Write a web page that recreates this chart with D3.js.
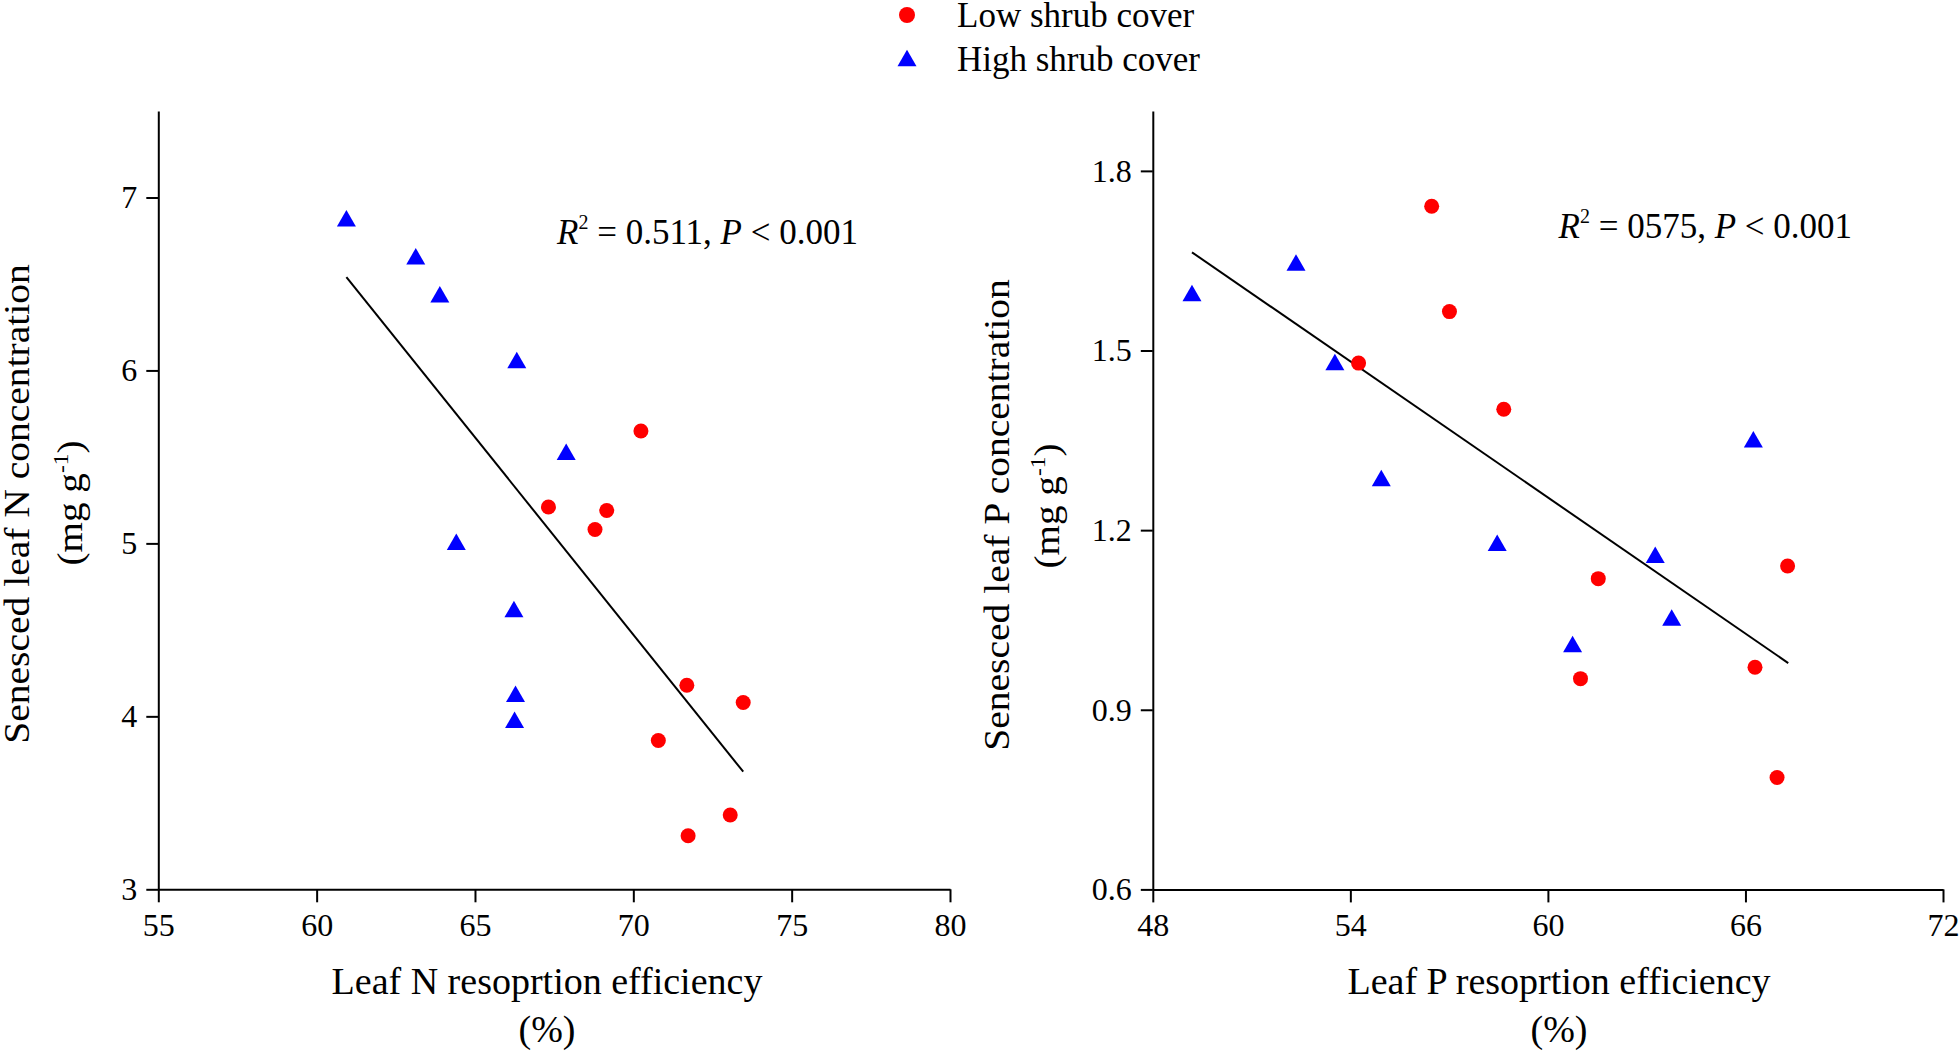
<!DOCTYPE html>
<html><head><meta charset="utf-8">
<script src="https://cdn.jsdelivr.net/npm/d3@7"></script>
<style>
body{margin:0;background:#fff}
svg{display:block}
text{font-family:"Liberation Serif","Times New Roman",serif;fill:#000}
</style>
</head><body>
<svg id="c" width="1960" height="1054"></svg>
<script>
// ---------- data ----------
const lowN  = [[70.24,5.65],[67.32,5.21],[69.16,5.19],[68.79,5.08],[71.69,4.18],[73.47,4.08],[70.79,3.86],[73.06,3.43],[71.73,3.31]];
const highN = [[60.94,6.88],[63.13,6.66],[63.89,6.44],[66.32,6.06],[67.88,5.53],[64.41,5.01],[66.23,4.62],[66.28,4.13],[66.25,3.98]];
const fitN  = [[60.94,6.54],[73.47,3.68]];
const lowP  = [[56.47,1.741],[57.01,1.565],[54.25,1.479],[58.66,1.402],[61.53,1.119],[67.28,1.140],[60.99,0.952],[66.29,0.971],[66.96,0.787]];
const highP = [[49.19,1.596],[52.35,1.647],[53.53,1.481],[54.94,1.287],[58.46,1.179],[63.26,1.159],[66.24,1.352],[63.76,1.054],[60.75,1.010]];
const fitP  = [[49.19,1.664],[67.30,0.978]];
const xTicksN = [55,60,65,70,75,80], yTicksN = [3,4,5,6,7];
const xTicksP = [48,54,60,66,72],    yTicksP = [0.6,0.9,1.2,1.5,1.8];
const xDomainN = [55,80], yDomainN = [3,7.5];
const xDomainP = [48,72], yDomainP = [0.6,1.9];
const seriesNames = ["Low shrub cover","High shrub cover"];
const seriesColors = ["#ff0000","#0000ff"];
const xTitles = [["Leaf N resoprtion efficiency","(%)"],["Leaf P resoprtion efficiency","(%)"]];
const yTitles = [["Senesced leaf N concentration"],["Senesced leaf P concentration"]];
const r2Text = ["0.511","0575"];
const pText = "0.001";

// ---------- drawing ----------
const svg = d3.select("#c");
const triPath = (s,h) => `M0,${-h/2}L${s/2},${h/2}L${-s/2},${h/2}Z`;

const panels = [
  {low:lowN, high:highN, fit:fitN, xd:xDomainN, yd:yDomainN, xt:xTicksN, yt:yTicksN, yfmt:d3.format("d"),
   x0:158.3, x1:950, yb:889.3, ytop:111, xtitleX:547, ytitle1X:29, ytitle2X:82, ytitle1Y:504, ytitle2Y:503,
   annX:557, annY:244, idx:0},
  {low:lowP, high:highP, fit:fitP, xd:xDomainP, yd:yDomainP, xt:xTicksP, yt:yTicksP, yfmt:d3.format(".1f"),
   x0:1152.8, x1:1943, yb:889.4, ytop:111, xtitleX:1559, ytitle1X:1009, ytitle2X:1059, ytitle1Y:515, ytitle2Y:506,
   annX:1558.5, annY:238, idx:1}
];

panels.forEach(p => {
  const x = d3.scaleLinear().domain(p.xd).range([p.x0, p.x1]);
  const y = d3.scaleLinear().domain(p.yd).range([p.yb, p.ytop]);
  const g = svg.append("g");

  // axes
  const xa = g.append("g").attr("transform", `translate(0,${p.yb})`)
    .call(d3.axisBottom(x).tickValues(p.xt).tickFormat(d3.format("d")).tickSize(13).tickPadding(10.5).tickSizeOuter(0));
  const ya = g.append("g").attr("transform", `translate(${p.x0},0)`)
    .call(d3.axisLeft(y).tickValues(p.yt).tickFormat(p.yfmt).tickSize(12).tickPadding(9).tickSizeOuter(0));
  [xa, ya].forEach(a => {
    a.select(".domain").attr("stroke","#000").attr("stroke-width",2);
    a.selectAll(".tick line").attr("stroke","#000").attr("stroke-width",2);
    a.selectAll(".tick text").attr("font-size",32).attr("font-family",'"Liberation Serif","Times New Roman",serif').attr("fill","#000");
  });

  // regression line
  g.append("path").datum(p.fit)
    .attr("d", d3.line().x(d => x(d[0])).y(d => y(d[1])))
    .attr("fill","none").attr("stroke","#000").attr("stroke-width",2);

  // points
  g.selectAll("circle.low").data(p.low).join("circle").attr("class","low")
    .attr("cx", d => x(d[0])).attr("cy", d => y(d[1])).attr("r", 7.5).attr("fill", seriesColors[0]);
  g.selectAll("path.high").data(p.high).join("path").attr("class","high")
    .attr("transform", d => `translate(${x(d[0])},${y(d[1])})`)
    .attr("d", triPath(19,16.5)).attr("fill", seriesColors[1]);

  // annotation
  const t = g.append("text").attr("x", p.annX).attr("y", p.annY).attr("font-size", 35);
  t.append("tspan").attr("font-style","italic").text("R");
  t.append("tspan").attr("font-size",20).attr("dy",-15).text("2");
  t.append("tspan").attr("dy",15).text(" = " + r2Text[p.idx] + ", ");
  t.append("tspan").attr("font-style","italic").text("P");
  t.append("tspan").text(" < " + pText);

  // x title
  g.append("text").attr("x", p.xtitleX).attr("y", 994).attr("text-anchor","middle").attr("font-size",38).text(xTitles[p.idx][0]);
  g.append("text").attr("x", p.xtitleX).attr("y", 1042).attr("text-anchor","middle").attr("font-size",38).text(xTitles[p.idx][1]);

  // y title
  g.append("text").attr("transform", `translate(${p.ytitle1X},${p.ytitle1Y}) rotate(-90) scale(1.13,1)`)
    .attr("text-anchor","middle").attr("font-size",35).text(yTitles[p.idx][0]);
  const t2 = g.append("text").attr("transform", `translate(${p.ytitle2X},${p.ytitle2Y}) rotate(-90) scale(1.12,1)`)
    .attr("text-anchor","middle").attr("font-size",35);
  t2.append("tspan").text("(mg g");
  t2.append("tspan").attr("font-size",21).attr("dy",-14).text("-1");
  t2.append("tspan").attr("dy",14).text(")");
});

// legend
const lg = svg.append("g");
lg.append("circle").attr("cx",907).attr("cy",15).attr("r",8).attr("fill",seriesColors[0]);
lg.append("path").attr("transform","translate(907,58)").attr("d",triPath(19,16.5)).attr("fill",seriesColors[1]);
lg.append("text").attr("x",957).attr("y",27).attr("font-size",35).text(seriesNames[0]);
lg.append("text").attr("x",957).attr("y",71).attr("font-size",35).text(seriesNames[1]);
</script>
</body></html>
